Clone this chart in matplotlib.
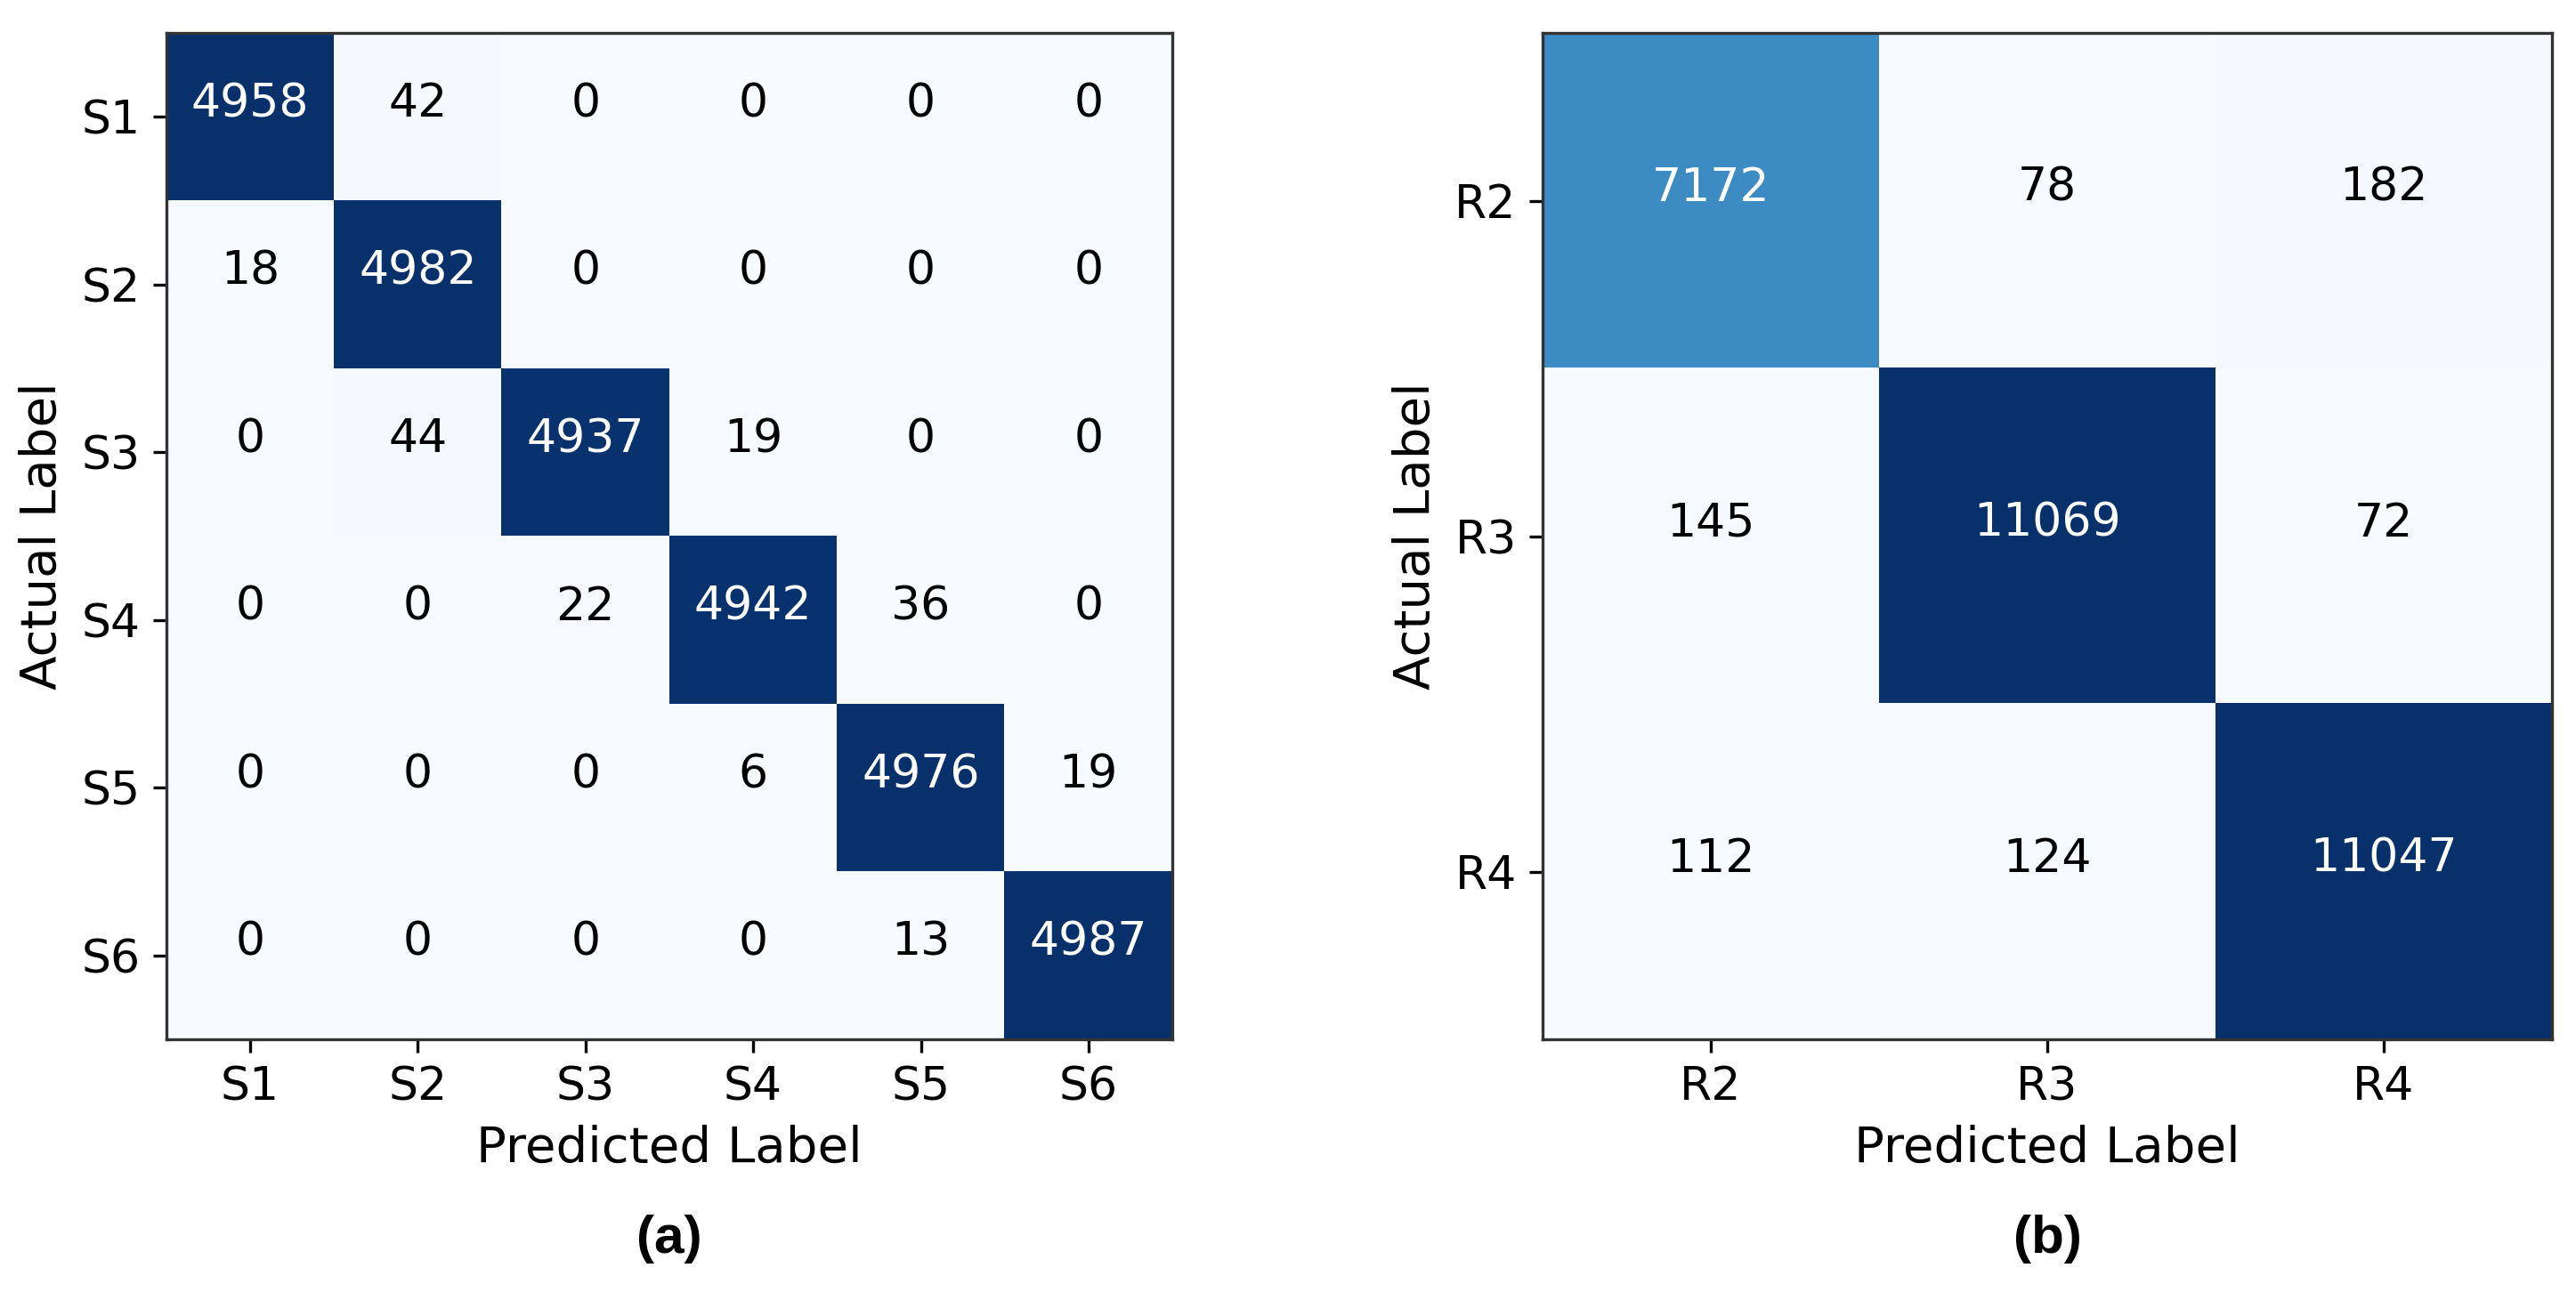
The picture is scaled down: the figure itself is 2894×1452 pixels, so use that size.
import matplotlib
matplotlib.use("Agg")
import matplotlib.pyplot as plt
import numpy as np

# confusion matrix (a)
labels_a = ["S1", "S2", "S3", "S4", "S5", "S6"]
cm_a = np.array([
    [4958, 42, 0, 0, 0, 0],
    [18, 4982, 0, 0, 0, 0],
    [0, 44, 4937, 19, 0, 0],
    [0, 0, 22, 4942, 36, 0],
    [0, 0, 0, 6, 4976, 19],
    [0, 0, 0, 0, 13, 4987],
])

# confusion matrix (b)
labels_b = ["R2", "R3", "R4"]
cm_b = np.array([
    [7172, 78, 182],
    [145, 11069, 72],
    [112, 124, 11047],
])

W, H = 2894, 1452
dpi = 300
fig = plt.figure(figsize=(W / dpi, H / dpi), dpi=dpi)

tick_fs = 12.5
label_fs = 13.5


def draw_cm(ax, cm, labels):
    ax.imshow(cm, cmap="Blues", interpolation="nearest", aspect="auto")
    thresh = cm.max() / 2.0
    for i in range(cm.shape[0]):
        for j in range(cm.shape[1]):
            # numbers sit on the row centre line (baseline alignment)
            ax.text(j, i, str(cm[i, j]), ha="center", va="baseline",
                    fontsize=tick_fs,
                    color="white" if cm[i, j] > thresh else "black")
    ax.set_xticks(range(len(labels)))
    ax.set_yticks(range(len(labels)))
    ax.set_xticklabels(labels, fontsize=tick_fs)
    ax.set_yticklabels(labels, fontsize=tick_fs)
    ax.set_xlabel("Predicted Label", fontsize=label_fs)
    ax.set_ylabel("Actual Label", fontsize=label_fs)
    for s in ax.spines.values():
        s.set_color("#333333")


ax1 = fig.add_axes([187 / W, 1 - 1168 / H, 1130 / W, 1131 / H])
draw_cm(ax1, cm_a, labels_a)

ax2 = fig.add_axes([1733 / W, 1 - 1168 / H, 1134 / W, 1131 / H])
draw_cm(ax2, cm_b, labels_b)

fig.text((187 + 1130 / 2) / W, 1 - 1392 / H, "(a)", ha="center", va="center",
         fontsize=14.5, fontweight="bold", family="Liberation Sans")
fig.text((1733 + 1134 / 2) / W, 1 - 1392 / H, "(b)", ha="center", va="center",
         fontsize=14.5, fontweight="bold", family="Liberation Sans")

fig.savefig("out.png", dpi=dpi)
